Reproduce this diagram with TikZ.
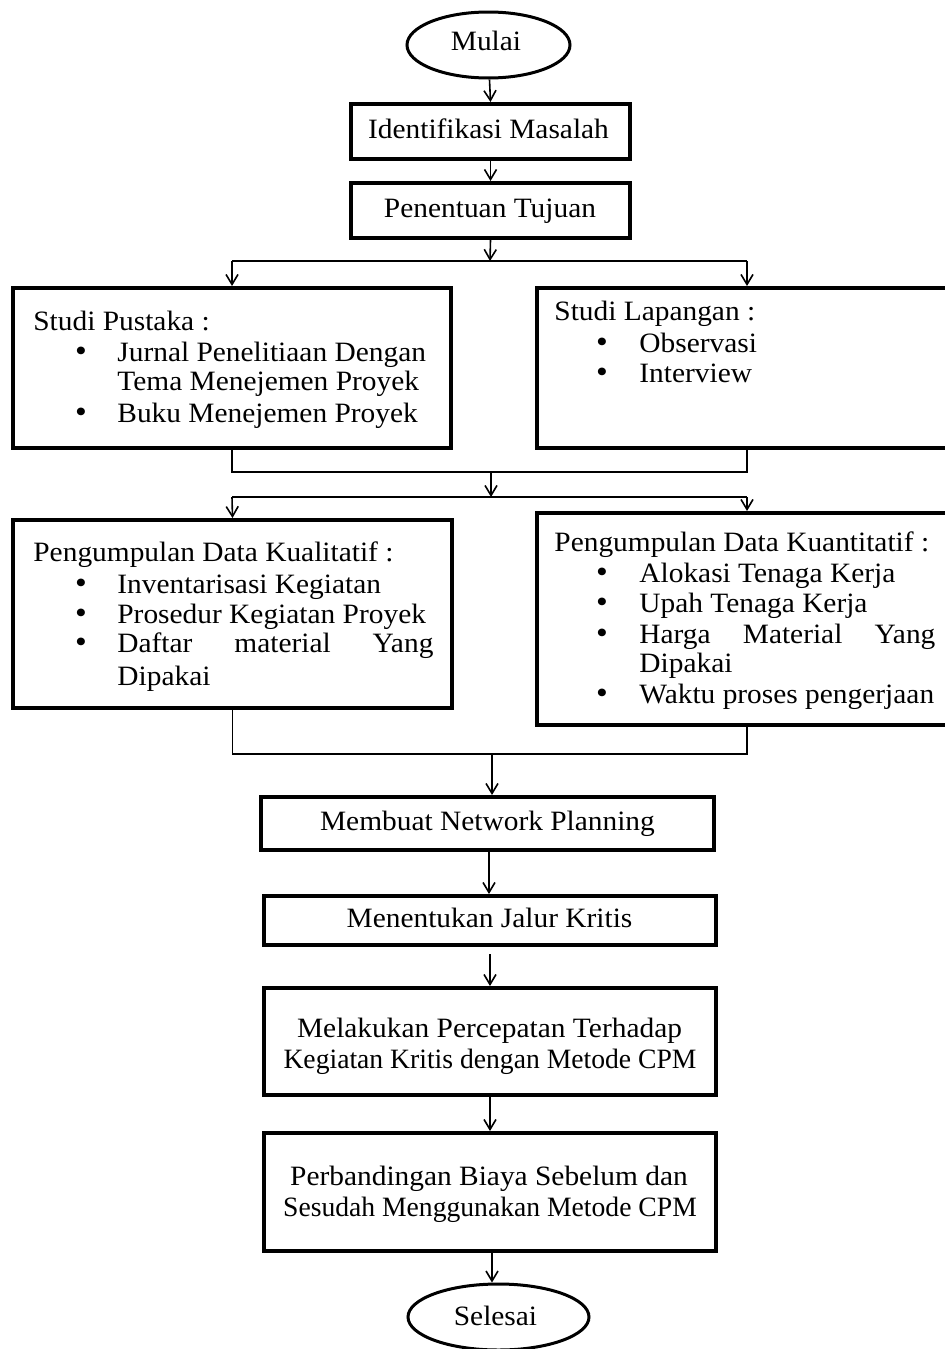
\documentclass[tikz,border=0pt]{standalone}
\usepackage{graphicx}
\usepackage{fontspec}
\setmainfont{Liberation Serif}[FakeStretch=1.05]
\usetikzlibrary{arrows.meta,shapes.geometric}
\tikzset{
  box/.style={draw, line width=2pt, rectangle, inner sep=0pt},
  term/.style={draw, line width=1.5pt, ellipse, inner sep=0pt},
  txt/.style={inner sep=0pt, anchor=base west, font=\fontsize{14}{16}\selectfont},
  ctxt/.style={inner sep=0pt, anchor=base, font=\fontsize{14}{16}\selectfont},
  bul/.style={inner sep=0pt, anchor=base, font=\fontsize{16}{16}\selectfont},
  conn/.style={line width=0.8pt},
  arr/.style={line width=0.8pt, -{Straight Barb[length=5pt,width=6pt]}},
}
\begin{document}
\begin{tikzpicture}[x=0.5pt,y=-0.5pt]
\useasboundingbox (0,0) rectangle (945,1349);
\fill[white] (0,0) rectangle (945,1349);
\clip (0,0) rectangle (945,1349);

% ---------- shapes ----------
\node[term, minimum width=81.5pt, minimum height=33pt] (mulai) at (488.5,45) {};
\node[box, minimum width=139.5pt, minimum height=27.5pt] (ident) at (490.5,131.5) {};
\node[box, minimum width=139.5pt, minimum height=27.5pt] (tujuan) at (490.5,210.5) {};
\node[box, minimum width=219pt, minimum height=80pt] (pustaka) at (232,368) {};
\node[box, minimum width=210pt, minimum height=80pt] (lapangan) at (747,368) {};
\node[box, minimum width=219.5pt, minimum height=94pt] (kual) at (232.5,614) {};
\node[box, minimum width=210pt, minimum height=106pt] (kuan) at (747,619) {};
\node[box, minimum width=226.5pt, minimum height=26.5pt] (network) at (487.5,823.5) {};
\node[box, minimum width=226pt, minimum height=24.5pt] (jalur) at (490,920.5) {};
\node[box, minimum width=226pt, minimum height=53.5pt] (cepat) at (490,1041.5) {};
\node[box, minimum width=226pt, minimum height=59pt] (banding) at (490,1192) {};
\node[term, minimum width=90.5pt, minimum height=33pt] (selesai) at (498.5,1317) {};

% ---------- centred texts ----------
\node[ctxt] (tmulai) at (486,50) {Mulai};
\node[ctxt] (tident) at (488.5,138) {Identifikasi Masalah};
\node[ctxt] (ttujuan) at (490,217) {Penentuan Tujuan};
\node[ctxt] (tnet) at (487.5,830) {Membuat Network Planning};
\node[ctxt] (tjalur) at (489.5,927) {Menentukan Jalur Kritis};
\node[ctxt] (tcep1) at (489.5,1037) {Melakukan Percepatan Terhadap};
\node[ctxt] (tcep2) at (490,1068) {\scalebox{0.94}[1]{Kegiatan Kritis dengan Metode CPM}};
\node[ctxt] (tban1) at (489,1185) {Perbandingan Biaya Sebelum dan};
\node[ctxt] (tban2) at (490,1216) {\scalebox{0.94}[1]{Sesudah Menggunakan Metode CPM}};
\node[ctxt] (tselesai) at (495.5,1325) {Selesai};

% ---------- Studi Pustaka ----------
\node[txt] (sp0) at (33,330) {Studi Pustaka :};
\node[bul] (spb1) at (81,361) {•};
\node[txt] (sp1) at (117,361) {Jurnal Penelitiaan Dengan};
\node[txt] (sp1b) at (117,390) {Tema Menejemen Proyek};
\node[bul] (spb2) at (81,422) {•};
\node[txt] (sp2) at (117,422) {Buku Menejemen Proyek};

% ---------- Studi Lapangan ----------
\node[txt] (sl0) at (554,320) {Studi Lapangan :};
\node[bul] (slb1) at (602,352) {•};
\node[txt] (sl1) at (639,352) {Observasi};
\node[bul] (slb2) at (602,382) {•};
\node[txt] (sl2) at (639,382) {Interview};

% ---------- Kualitatif ----------
\node[txt] (kl0) at (33,561) {Pengumpulan Data Kualitatif :};
\node[bul] (klb1) at (81,593) {•};
\node[txt] (kl1) at (117,593) {Inventarisasi Kegiatan};
\node[bul] (klb2) at (81,623) {•};
\node[txt] (kl2) at (117,623) {Prosedur Kegiatan Proyek};
\node[bul] (klb3) at (81,652) {•};
\node[txt] (kl3) at (117,652) {\makebox[158pt][s]{Daftar material Yang}};
\node[txt] (kl3b) at (117,685) {Dipakai};

% ---------- Kuantitatif ----------
\node[txt] (kn0) at (554,551) {Pengumpulan Data Kuantitatif :};
\node[bul] (knb1) at (602,582) {•};
\node[txt] (kn1) at (639,582) {Alokasi Tenaga Kerja};
\node[bul] (knb2) at (602,612) {•};
\node[txt] (kn2) at (639,612) {Upah Tenaga Kerja};
\node[bul] (knb3) at (602,643) {•};
\node[txt] (kn3) at (639,643) {\makebox[148pt][s]{Harga Material Yang}};
\node[txt] (kn3b) at (639,672) {Dipakai};
\node[bul] (knb4) at (602,703) {•};
\node[txt] (kn4) at (639,703) {Waktu proses pengerjaan};

% ---------- connector points ----------
\coordinate (s1) at (490,261);
\coordinate (s1l) at (232,261);
\coordinate (s1r) at (747,261);
\coordinate (j1) at (491,472);
\coordinate (s2) at (491,497);
\coordinate (s2l) at (232,497);
\coordinate (s2r) at (747,497);
\coordinate (j2) at (492,754);

% ---------- connectors ----------
\draw[arr] (mulai.south -| ident.north) ++(-1,0) -- (ident.north);
\draw[arr] (ident.south) -- (tujuan.north);
\draw[arr] (tujuan.south) -- (s1);
\draw[conn] (s1l) -- (s1r);
\draw[arr] (s1l) -- (pustaka.north);
\draw[arr] (s1r) -- (lapangan.north);
\draw[conn] (pustaka.south) |- (j1) -| (lapangan.south);
\draw[arr] (j1) -- (s2);
\draw[conn] (s2l) -- (s2r);
\draw[arr] (s2l) -- (kual.north);
\draw[arr] (s2r) -- (kuan.north);
\draw[conn] (kual.south) |- (j2) -| (kuan.south);
\draw[arr] (j2) -- (j2 |- network.north);
\draw[arr] ([xshift=0.75pt]network.south) -- ([xshift=0.75pt]network.south |- jalur.north);
\draw[arr] ([yshift=-3.5pt]jalur.south) -- (cepat.north);
\draw[arr] (cepat.south) -- (banding.north);
\draw[arr] ([xshift=1pt]banding.south) -- ([xshift=1pt]banding.south |- selesai.north);
\end{tikzpicture}
\end{document}
